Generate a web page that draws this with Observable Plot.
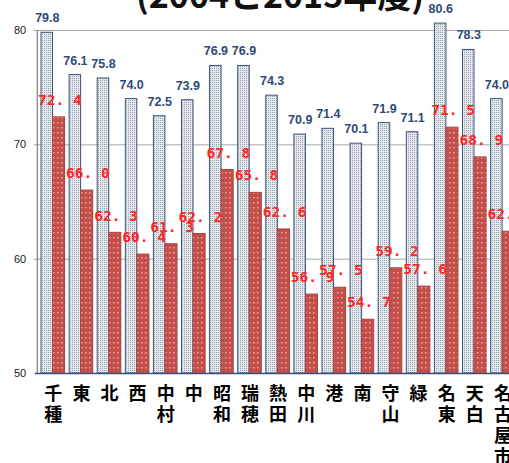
<!DOCTYPE html>
<html><head><meta charset="utf-8">
<script src="https://cdn.jsdelivr.net/npm/d3@7"></script>
<script src="https://cdn.jsdelivr.net/npm/@observablehq/plot@0.6"></script>
<style>
html,body{margin:0;padding:0;background:#fff;overflow:hidden;width:509px;height:463px;}
#wrap{position:relative;width:509px;height:463px;overflow:hidden;}
#title{position:absolute;left:0;width:560px;top:-23px;text-align:center;font-family:"Noto Sans CJK JP";font-weight:bold;font-size:34px;line-height:34px;color:#111;white-space:nowrap;}
#chart{position:absolute;left:0;top:0;width:520px;}
</style></head><body>
<div id="wrap"><div id="chart"></div><div id="title">(2004と2015年度)</div></div>
<script>
const wards = ["千種","東","北","西","中村","中","昭和","瑞穂","熱田","中川","港","南","守山","緑","名東","天白","名古屋市"];
const v2004 = [79.8,76.1,75.8,74.0,72.5,73.9,76.9,76.9,74.3,70.9,71.4,70.1,71.9,71.1,80.6,78.3,74.0];
const v2015 = [72.4,66.0,62.3,60.4,61.3,62.2,67.8,65.8,62.6,56.9,57.5,54.7,59.2,57.6,71.5,68.9,62.4];
const yTicks = [50,60,70,80];
const gridTicks = [60,70,80];

const rows04 = wards.map((w,i)=>({ward:w, v:v2004[i]}));
const rows15 = wards.map((w,i)=>({ward:w, v:v2015[i]}));

const W = 520;
const chart = Plot.plot({
  width: W, height: 463,
  marginLeft: 38.75, marginRight: W - 516.45, marginTop: 30, marginBottom: 90,
  x: {domain: wards, paddingInner: 0.16, paddingOuter: 0.08, round: false, axis: null, label: null},
  y: {domain: [50, 80], axis: null, label: null},
  style: {background: "transparent", fontFamily: "Liberation Sans", maxWidth: "none", overflow: "visible"},
  marks: [
    Plot.ruleY(gridTicks, {stroke: "#a8a8a8", strokeWidth: 1, insetLeft: -5}),
    Plot.axisY({ticks: yTicks, tickSize: 0, tickPadding: 13, fontSize: 11, fill: "#222", label: null, tickFormat: d => String(d)}),
    Plot.frame({anchor: "left", stroke: "#666", dx: -2}),
    Plot.barY(rows04, {x: "ward", y1: 50, y2: "v", insetRight: 12.1, fill: "url(#pb)", stroke: "#3b5278", strokeWidth: 1}),
    Plot.barY(rows15, {x: "ward", y1: 50, y2: "v", insetLeft: 11.5, fill: "url(#pr)", stroke: "#a8403c", strokeWidth: 1}),
    Plot.ruleY([50], {stroke: "#3b5278", strokeWidth: 1.3, insetLeft: -4}),
    Plot.text(rows04, {x: "ward", y: "v", text: d => d.v.toFixed(1), dx: -6, dy: -14.5,
      fill: "#2f4a78", fontWeight: "bold", fontSize: 12.5, fontFamily: "Liberation Sans"}),
    Plot.text(rows15, {x: "ward", y: "v", text: d => d.v.toFixed(1).replace(".", ". "), dx: 6.5, dy: -17,
      fill: "#ff2626", fontWeight: "bold", fontSize: 14.5, fontFamily: "DejaVu Sans Mono", ariaLabel: "red-labels"}),
    Plot.text(wards, {x: d => d, frameAnchor: "bottom", text: d => d.split("").join("\n"),
      lineAnchor: "top", lineHeight: 1.18, dy: 11, fontSize: 18, fontWeight: "bold", fill: "#000",
      fontFamily: "Noto Sans CJK JP"})
  ]
});
document.getElementById("chart").appendChild(chart);

const svg = d3.select(chart);
const defs = svg.insert("defs", ":first-child");
const pb = defs.append("pattern").attr("id", "pb").attr("patternUnits", "userSpaceOnUse").attr("width", 2).attr("height", 2);
pb.append("rect").attr("width", 2).attr("height", 2).attr("fill", "#e4e8ed");
pb.append("rect").attr("width", 1).attr("height", 1).attr("fill", "#98a4b3");
const pr = defs.append("pattern").attr("id", "pr").attr("patternUnits", "userSpaceOnUse").attr("width", 4).attr("height", 5);
pr.append("rect").attr("width", 4).attr("height", 5).attr("fill", "#c44e4a");
pr.append("rect").attr("x", 1).attr("y", 2).attr("width", 1.5).attr("height", 1.5).attr("fill", "#e8a8a4");
svg.selectAll("g[aria-label='red-labels'] text").style("letter-spacing", "-1.6px");
</script>
</body></html>
